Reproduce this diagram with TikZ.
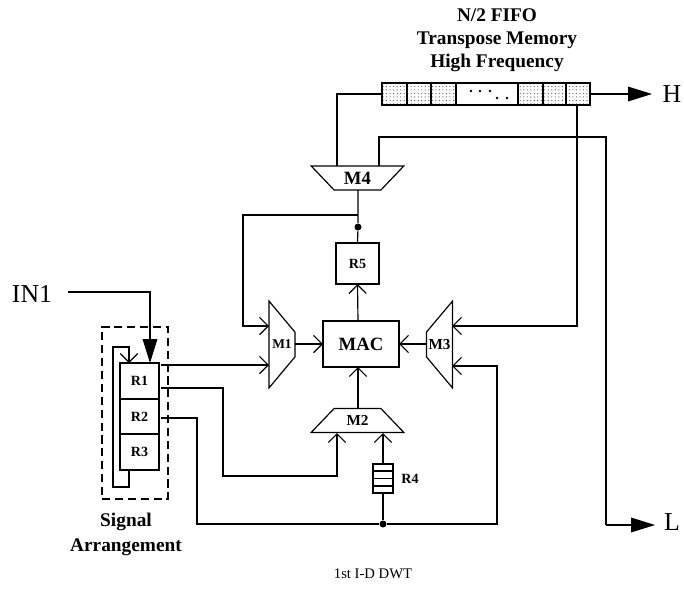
\documentclass[tikz,border=0pt]{standalone}
\usepackage{fontspec}
\setmainfont{Liberation Serif}
\usepackage{xcolor}
\usetikzlibrary{arrows.meta,shapes.geometric,patterns}

\begin{document}
\begin{tikzpicture}[x=0.03cm, y=-0.03cm, line width=1pt,
  >={Straight Barb[length=2.6mm,width=5.2mm]},
  big/.style={-{Triangle[length=7.2mm,width=4.4mm]}},
  reg/.style={draw, outer sep=0pt, inner sep=0pt, font=\fontsize{12}{14}\selectfont\bfseries},
  cell/.style={draw, outer sep=0pt, inner sep=0pt, minimum height=0.66cm},
  fifo/.style={cell, pattern=dots, pattern color=black!70},
  mux/.style={draw, trapezium, trapezium stretches=true, outer sep=0pt, inner sep=0pt,
    font=\fontsize{13}{14}\selectfont\bfseries},
  muxh/.style={mux, trapezium angle=43, minimum width=2.79cm, minimum height=0.72cm},
  muxv/.style={mux, trapezium angle=60, minimum width=2.61cm, minimum height=0.78cm},
  lab/.style={align=center, font=\fontsize{16.5}{19.6}\selectfont\bfseries, inner sep=0pt},
  port/.style={font=\fontsize{22}{24}\selectfont, inner sep=0pt},
  junction/.style={circle, fill=black, inner sep=0pt, minimum size=2.1mm}]
\useasboundingbox (0,0) rectangle (684,589);
% transpose memory
\node[fifo, minimum width=0.75cm] (F1) at (394.5,94) {};
\node[fifo, minimum width=0.72cm] (F2) at (419,94) {};
\node[fifo, minimum width=0.75cm] (F3) at (443.5,94) {};
\node[cell, minimum width=1.86cm] (F4) at (487,94) {};
\node[fifo, minimum width=0.75cm] (F5) at (530.5,94) {};
\node[fifo, minimum width=0.69cm] (F6) at (554.5,94) {};
\node[fifo, minimum width=0.72cm] (F7) at (578,94) {};
\foreach \px/\py in {471/91,480/91,490/91,497/98,507/98}
  \fill (\px,\py) circle (1.2pt);
\node[lab] (title) at (497,40) {N/2 FIFO\\Transpose Memory\\High Frequency};
% MAC and registers
\node[reg, minimum width=2.28cm, minimum height=1.38cm, font=\fontsize{16}{18}\selectfont\bfseries] (MAC) at (361,344) {MAC};
\node[reg, minimum width=1.29cm, minimum height=1.23cm] (R5) at (357.5,263.5) {R5};
\node[reg, minimum width=1.17cm, minimum height=1.08cm] (R1) at (139.5,381) {R1};
\node[reg, minimum width=1.17cm, minimum height=1.05cm] (R2) at (139.5,416.5) {R2};
\node[reg, minimum width=1.17cm, minimum height=1.08cm] (R3) at (139.5,452) {R3};
\node[draw, dash pattern=on 7pt off 4pt, minimum width=1.98cm, minimum height=5.16cm, outer sep=0pt] (SA) at (135,413) {};
% muxes
\node[muxh, shape border rotate=180, font=\fontsize{16}{18}\selectfont\bfseries] (M4) at (357.5,178) {M4};
\node[muxh] (M2) at (357.5,420.5) {M2};
\node[muxv, shape border rotate=270, font=\fontsize{11.5}{14}\selectfont\bfseries] (M1) at (282,344.5) {M1};
\node[muxv, shape border rotate=90] (M3) at (439.5,344.5) {M3};
% R4 stack
\node[draw, minimum width=0.6cm, minimum height=0.87cm, outer sep=0pt] (R4) at (383,478.5) {};
\draw (373,471) -- (393,471) (373,478.5) -- (393,478.5) (373,486) -- (393,486);
\node[reg, draw=none] (R4t) at (410,479) {R4};
% junctions and free ends
\node[junction] (J5) at (358,227) {};
\node[junction] (J4) at (383,524) {};
\coordinate (in) at (68,292);
\coordinate (L) at (655,525);
\coordinate (Hend) at (652,94);
% ports and captions
\node[port] (IN1) at (32,294) {IN1};
\node[port] (Ht) at (672,94) {H};
\node[port] (Lt) at (672,522) {L};
\node[lab, font=\fontsize{16.5}{21.3}\selectfont\bfseries] (SAt) at (126,534) {Signal\\Arrangement};
\node[inner sep=0pt, font=\fontsize{12.5}{14}\selectfont] (cap) at (373,574) {1st I-D DWT};
% input and register loop
\draw[big] (in) -- (150,292) -- (150,363);
\draw[->] (129,470) -- (129,487) -- (113,487) -- (113,347) -- (129,347) -- (129,363);
% register outputs
\draw[->] (161,365) -- (269,365);
\draw[->] (161,388) -- (223,388) -- (223,476) -- (337,476) -- (337,433);
\draw (161,418) -- (197,418) -- (197,524) -- (J4);
\draw[->] (J4) -- (497,524) -- (497,366) -- (452,366);
% around MAC
\draw[->] (295,344) -- (MAC.west);
\draw[->] (427,344) -- (MAC.east);
\draw[->] (358,408) -- (358,367);
\draw[->] (358,321) -- (R5.south);
\draw[->] (383,464) -- (383,433);
\draw (J4) -- (R4.south);
% R5 to M4 and M1
\draw (R5.north) -- (J5) -- (358,190);
\draw[->] (358,215) -- (243,215) -- (243,326) -- (269,326);
% memory connections
\draw (F1.west) -- (337,94) -- (337,166);
\draw (379,166) -- (379,137) -- (606,137) -- (606,525);
\draw[big] (606,525) -- (L);
\draw[big] (F7.east) -- (Hend);
\draw[->] (577,105) -- (577,326) -- (452,326);
\end{tikzpicture}
\end{document}
